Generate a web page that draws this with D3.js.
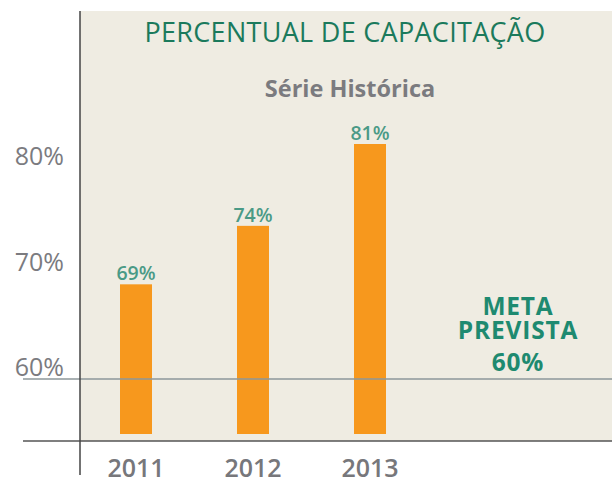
<!DOCTYPE html>
<html><head><meta charset="utf-8">
<script src="https://cdn.jsdelivr.net/npm/d3@7"></script>
<style>
html,body{margin:0;padding:0;background:#fff;}
svg{display:block;font-family:"Open Sans",sans-serif;}
</style></head>
<body>
<svg id="c" width="612" height="478"></svg>
<script>
const years = ["2011", "2012", "2013"];
const values = [69, 74, 81];
const tickValues = [60, 70, 80];
const goalValue = 60;
const title = "PERCENTUAL DE CAPACITAÇÃO";
const subtitle = "Série Histórica";
const goalLines = ["META", "PREVISTA", "60%"];

const svg = d3.select("#c");
const W = 612, H = 478;
const panel = {x: 80, y: 11, right: 612, bottom: 441};

const x = d3.scalePoint().domain(years).range([136, 370]);
const yBar = d3.scaleLinear().domain([56.2, 81]).range([434, 144]);
const yAxis = d3.scaleLinear().domain([60, 80]).range([379, 168]);
const barW = 32;

// background panel
svg.append("rect").attr("x", panel.x).attr("y", panel.y)
  .attr("width", panel.right - panel.x).attr("height", panel.bottom - panel.y)
  .attr("fill", "#efece2");

// bars
svg.selectAll("rect.bar").data(values).join("rect").attr("class", "bar")
  .attr("x", (d, i) => x(years[i]) - barW / 2)
  .attr("width", barW)
  .attr("y", d => yBar(d))
  .attr("height", d => yBar.range()[0] - yBar(d))
  .attr("fill", "#f7981d");

// goal line
svg.append("line").attr("x1", 23).attr("x2", W)
  .attr("y1", yAxis(goalValue)).attr("y2", yAxis(goalValue))
  .attr("stroke", "#8d979a").attr("stroke-width", 1.5);

// bottom baseline
svg.append("line").attr("x1", 23).attr("x2", W)
  .attr("y1", panel.bottom).attr("y2", panel.bottom)
  .attr("stroke", "#555").attr("stroke-width", 1.5);

// vertical axis line
svg.append("line").attr("x1", panel.x).attr("x2", panel.x)
  .attr("y1", panel.y).attr("y2", 475)
  .attr("stroke", "#444").attr("stroke-width", 1.5);

// y tick labels
svg.selectAll("text.ytick").data(tickValues).join("text").attr("class", "ytick")
  .attr("x", 64).attr("y", d => yAxis(d) - 3)
  .attr("text-anchor", "end")
  .attr("font-size", 25).attr("font-weight", 500).attr("fill", "#7b7b7f")
  .text(d => d + "%");

// bar value labels
svg.selectAll("text.vlab").data(values).join("text").attr("class", "vlab")
  .attr("x", (d, i) => x(years[i]))
  .attr("y", d => yBar(d) - 4)
  .attr("text-anchor", "middle")
  .attr("font-size", 19.5).attr("font-weight", 600).attr("fill", "#4a9a86")
  .text(d => d + "%");

// x labels
svg.selectAll("text.xlab").data(years).join("text").attr("class", "xlab")
  .attr("x", d => x(d)).attr("y", 477)
  .attr("text-anchor", "middle")
  .attr("font-size", 25).attr("font-weight", 600).attr("fill", "#77777b")
  .text(d => d);

// title
svg.append("text").attr("x", 345).attr("y", 42).attr("text-anchor", "middle")
  .attr("font-size", 27).attr("font-weight", 400).attr("letter-spacing", 0.3)
  .attr("fill", "#1b7a5c")
  .text(title);

svg.append("text").attr("x", 350).attr("y", 97).attr("text-anchor", "middle")
  .attr("font-size", 23.5).attr("font-weight", 700).attr("fill", "#7b7b7f")
  .text(subtitle);

// goal annotation
const goalY = [315, 339, 371];
svg.selectAll("text.goal").data(goalLines).join("text").attr("class", "goal")
  .attr("x", 518).attr("y", (d, i) => goalY[i])
  .attr("text-anchor", "middle")
  .attr("font-size", 24.5).attr("font-weight", 700).attr("letter-spacing", 0.8)
  .attr("fill", "#1e8a70")
  .text(d => d);
</script>
</body></html>
